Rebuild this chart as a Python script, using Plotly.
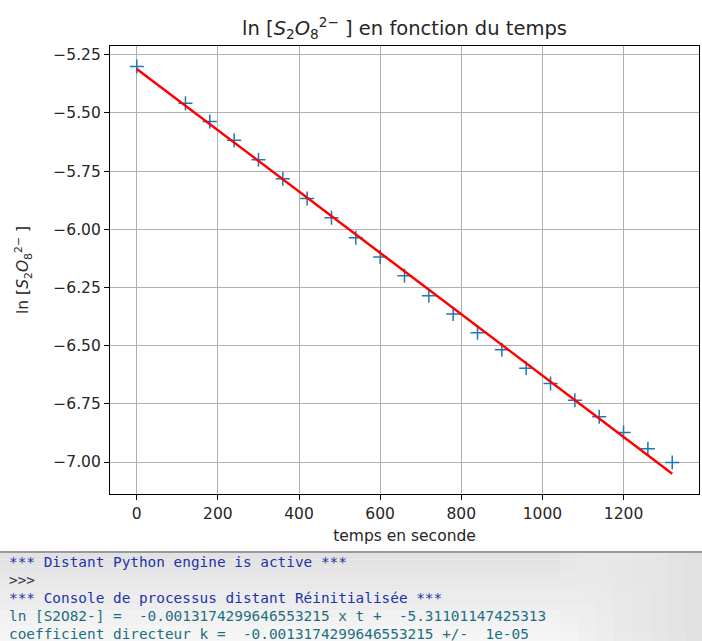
import plotly.graph_objects as go

# Data
temps = [0, 120, 180, 240, 300, 360, 420, 480, 540, 600, 660, 720,
         780, 840, 900, 960, 1020, 1080, 1140, 1200, 1260, 1320]
ln_c = [-5.301, -5.458, -5.537, -5.618, -5.701, -5.783, -5.868, -5.950,
        -6.036, -6.119, -6.200, -6.286, -6.364, -6.445, -6.518, -6.597,
        -6.663, -6.735, -6.806, -6.873, -6.943, -7.002]

# Regression printed in the console
pente = -0.0013174299646553215
ordonnee = -5.31101147425313
fit_t = [temps[0], temps[-1]]
fit_y = [pente * t + ordonnee for t in fit_t]

x_ticks = [0, 200, 400, 600, 800, 1000, 1200]
y_ticks = [-7.00, -6.75, -6.50, -6.25, -6.00, -5.75, -5.50, -5.25]

console_lines = [
    ("*** Distant Python engine is active ***", "#2233aa"),
    ("&gt;&gt;&gt;", "#303048"),
    ("*** Console de processus distant Réinitialisée ***", "#2233aa"),
    ("ln [S2O82-] =  -0.0013174299646553215 x t +  -5.31101147425313", "#1d6f80"),
    ("coefficient directeur k =  -0.0013174299646553215 +/-  1e-05", "#1d6f80"),
]

W, H = 702, 641
L, R, T, B = 110, 3, 46, 147
PW, PH = W - L - R, H - T - B


def px(xp):
    return (xp - L) / PW


def py(yp):
    return (H - B - yp) / PH


fig = go.Figure()
fig.add_trace(go.Scatter(
    x=temps, y=ln_c, mode="markers",
    marker=dict(symbol="cross-thin", size=10, line=dict(color="#1f77b4", width=1.5)),
    showlegend=False,
))
fig.add_trace(go.Scatter(
    x=fit_t, y=fit_y, mode="lines",
    line=dict(color="#ff0000", width=2.5),
    showlegend=False,
))

species = "<i>S</i><sub>2</sub><i>O</i><sub>8</sub><sup>2−</sup>"

shapes = []
# console background gradient (approximate)
top = 552
n = 12
for i in range(n):
    y0 = top + (H - top) * i / n
    y1 = top + (H - top) * (i + 1) / n
    g = int(226 + (246 - 226) * i / (n - 1))
    shapes.append(dict(type="rect", xref="paper", yref="paper",
                       x0=px(0), x1=px(W), y0=py(y1), y1=py(y0),
                       fillcolor=f"rgb({g},{g},{g})", line=dict(width=0), layer="below"))
# darker right part
for i in range(8):
    x0 = 560 + i * 18
    g = int(238 - 2.5 * i)
    shapes.append(dict(type="rect", xref="paper", yref="paper",
                       x0=px(x0), x1=px(W), y0=py(H), y1=py(top),
                       fillcolor=f"rgba({g},{g},{g},0.35)", line=dict(width=0), layer="below"))
shapes.append(dict(type="line", xref="paper", yref="paper",
                   x0=px(0), x1=px(W), y0=py(top), y1=py(top),
                   line=dict(color="#9a9a9a", width=2)))

annotations = []
for i, (txt, col) in enumerate(console_lines):
    yc = 561.5 + i * 18.0
    annotations.append(dict(
        text=txt, xref="paper", yref="paper", x=px(7), y=py(yc),
        xanchor="left", yanchor="middle", showarrow=False,
        font=dict(family="DejaVu Sans Mono", size=14.4, color=col),
    ))

fig.update_layout(
    width=W, height=H,
    margin=dict(l=L, r=R, t=T, b=B, pad=0, autoexpand=False),
    paper_bgcolor="white", plot_bgcolor="white",
    font=dict(family="DejaVu Sans", color="#262626"),
    title=dict(text="ln [" + species + " ] en fonction du temps",
               x=px(404.5), xref="paper", xanchor="center",
               y=1 - 28 / H, yref="container", yanchor="middle",
               font=dict(size=19.5, color="#262626")),
    shapes=shapes,
    annotations=annotations,
)
fig.update_xaxes(
    range=[-66, 1386], tickvals=x_ticks, ticktext=[str(v) for v in x_ticks],
    showgrid=True, gridcolor="#b0b0b0", gridwidth=1,
    showline=True, linecolor="black", linewidth=1.2, mirror=True,
    ticks="outside", ticklen=5, tickcolor="black", tickwidth=1,
    tickfont=dict(size=15.5, color="#262626"), zeroline=False, automargin=False,
    title=dict(text="temps en seconde", font=dict(size=15.5, color="#262626"), standoff=8),
)
fig.update_yaxes(
    range=[-7.1375, -5.2125], tickvals=y_ticks, tickformat=".2f",
    showgrid=True, gridcolor="#b0b0b0", gridwidth=1,
    showline=True, linecolor="black", linewidth=1.2, mirror=True,
    ticks="outside", ticklen=5, tickcolor="black", tickwidth=1,
    tickfont=dict(size=15.5, color="#262626"), zeroline=False, automargin=False,
    title=dict(text="ln [" + species + " ]", font=dict(size=15.5, color="#262626"), standoff=20),
)

fig.write_html(
    "out.html",
    config={"displayModeBar": False},
    post_script="document.body.style.margin='0';document.body.style.overflow='hidden';",
)
